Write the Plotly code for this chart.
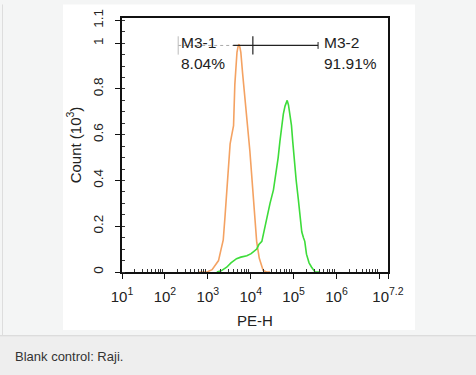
import plotly.graph_objects as go

# ---- data (log10 of PE-H intensity, count in 10^3) ----
blank_log = [2.80, 2.98, 3.10, 3.18, 3.25, 3.31, 3.36, 3.40, 3.44, 3.48, 3.52, 3.56, 3.60,
             3.63, 3.66, 3.68, 3.71, 3.73, 3.75, 3.77, 3.81, 3.86, 3.91, 3.94, 3.98, 4.02,
             4.06, 4.10, 4.14, 4.20, 4.25, 4.29, 4.37, 4.45]
blank_cnt = [0.0, 0.0, 0.01, 0.03, 0.05, 0.10, 0.14, 0.24, 0.36, 0.47, 0.56, 0.60, 0.64,
             0.82, 0.93, 0.96, 0.99, 0.995, 0.98, 0.96, 0.87, 0.77, 0.68, 0.64, 0.53, 0.43,
             0.33, 0.25, 0.13, 0.06, 0.025, 0.007, 0.0, 0.0]

raji_log = [3.21, 3.31, 3.44, 3.54, 3.67, 3.77, 3.91, 4.01, 4.14, 4.19, 4.26, 4.31, 4.37,
            4.45, 4.53, 4.59, 4.64, 4.68, 4.72, 4.76, 4.80, 4.83, 4.85, 4.88, 4.91, 4.95,
            4.98, 5.01, 5.06, 5.11, 5.15, 5.19, 5.23, 5.26, 5.30, 5.36, 5.42, 5.50, 5.61]
raji_cnt = [0.0, 0.005, 0.021, 0.04, 0.058, 0.065, 0.071, 0.08, 0.10, 0.12, 0.134, 0.18,
            0.233, 0.30, 0.359, 0.43, 0.50, 0.57, 0.641, 0.69, 0.725, 0.74, 0.75, 0.73,
            0.697, 0.641, 0.57, 0.50, 0.40, 0.317, 0.24, 0.176, 0.15, 0.134, 0.078, 0.04,
            0.021, 0.0, 0.0]

gate_names = ["M3-1", "M3-2"]
gate_pct = ["8.04%", "91.91%"]
gate_lo_log = [2.31, 4.05]
gate_hi_log = [4.05, 5.57]
gate_level = 0.99

x_tick_exp = [1, 2, 3, 4, 5, 6, 7, 7.2]
x_tick_text = ["10<sup>1</sup>", "10<sup>2</sup>", "10<sup>3</sup>", "10<sup>4</sup>",
               "10<sup>5</sup>", "10<sup>6</sup>", "", "10<sup>7.2</sup>"]
y_tick_vals = [0, 0.2, 0.4, 0.6, 0.8, 1.0, 1.1]
y_tick_text = ["0", "0.2", "0.4", "0.6", "0.8", "1", "1.1"]

caption = "Blank control: Raji."

FONT = "Liberation Sans, Arial, sans-serif"

fig = go.Figure()
fig.add_trace(go.Scatter(x=[10 ** v for v in blank_log], y=blank_cnt, mode="lines",
                         line=dict(color="#F4A262", width=1.6), showlegend=False))
fig.add_trace(go.Scatter(x=[10 ** v for v in raji_log], y=raji_cnt, mode="lines",
                         line=dict(color="#3DDC3A", width=1.6), showlegend=False))

# gate lines
lo1, hi1 = gate_lo_log[0], gate_hi_log[0]
lo2, hi2 = gate_lo_log[1], gate_hi_log[1]
fig.add_trace(go.Scatter(x=[10 ** lo1, 10 ** 3.59], y=[gate_level, gate_level], mode="lines",
                         line=dict(color="#aaaaaa", width=1, dash="dot"), showlegend=False))
fig.add_trace(go.Scatter(x=[10 ** lo1, 10 ** lo1], y=[gate_level - 0.04, gate_level + 0.04],
                         mode="lines", line=dict(color="#bbbbbb", width=1), showlegend=False))
fig.add_trace(go.Scatter(x=[10 ** 3.59, 10 ** hi2], y=[gate_level, gate_level], mode="lines",
                         line=dict(color="#222222", width=1.2), showlegend=False))
fig.add_trace(go.Scatter(x=[10 ** hi1, 10 ** hi1], y=[gate_level - 0.04, gate_level + 0.04],
                         mode="lines", line=dict(color="#222222", width=1.2), showlegend=False))
fig.add_trace(go.Scatter(x=[10 ** hi2, 10 ** hi2], y=[gate_level - 0.015, gate_level + 0.015],
                         mode="lines", line=dict(color="#222222", width=1), showlegend=False))

label_x = [lo1 + 0.02, hi2 + 0.09]
for name, pct, lx in zip(gate_names, gate_pct, label_x):
    fig.add_annotation(x=lx, y=1.005, text=name, showarrow=False, xanchor="left",
                       yanchor="middle", font=dict(family=FONT, size=15.5, color="#222"))
    fig.add_annotation(x=lx, y=0.912, text=pct, showarrow=False, xanchor="left",
                       yanchor="middle", font=dict(family=FONT, size=15.5, color="#222"))

# page background decorations (paper coords)
L, R, T, B = 122, 88, 9, 103
W, H = 476, 375
pw, ph = W - L - R, H - T - B


def px(x):
    return (x - L) / pw


def py(y):
    return (H - B - y) / ph


fig.add_shape(type="rect", xref="paper", yref="paper", x0=px(63), x1=px(415), y0=py(332),
              y1=py(-5), fillcolor="white", line=dict(width=0), layer="below")
fig.add_shape(type="rect", xref="paper", yref="paper", x0=px(-5), x1=px(480), y0=py(380),
              y1=py(338), fillcolor="#eeeeee", line=dict(width=0), layer="below")
fig.add_shape(type="line", xref="paper", yref="paper", x0=px(-5), x1=px(480), y0=py(338),
              y1=py(338), line=dict(color="#d6d6d6", width=1), layer="below")
fig.add_shape(type="line", xref="paper", yref="paper", x0=px(2.5), x1=px(2.5), y0=py(338),
              y1=py(-5), line=dict(color="#dddddd", width=1), layer="below")
fig.add_annotation(xref="paper", yref="paper", x=px(13), y=py(360), text=caption,
                   showarrow=False, xanchor="left", yanchor="middle",
                   font=dict(family=FONT, size=13, color="#333"))

minor_x = [m * 10 ** k for k in range(1, 7) for m in range(2, 10)]

fig.update_xaxes(type="log", range=[1, 7.2], tickvals=[10 ** e for e in x_tick_exp],
                 ticktext=x_tick_text, ticks="outside", ticklen=5, tickwidth=1.2,
                 tickcolor="#111", showline=True, linecolor="#111", linewidth=1.5,
                 mirror=True, showgrid=False, zeroline=False, ticklabelstandoff=5,
                 tickfont=dict(family=FONT, size=15, color="#222"),
                 minor=dict(tickvals=minor_x, ticks="inside", ticklen=3, tickcolor="#333",
                            tickwidth=1),
                 title=dict(text="PE-H", font=dict(family=FONT, size=15, color="#222"),
                            standoff=12))
fig.update_yaxes(range=[0, 1.11], tickvals=y_tick_vals, ticktext=y_tick_text,
                 tickangle=-90, ticks="outside", ticklen=5, tickwidth=1.2, tickcolor="#111",
                 showline=True, linecolor="#111", linewidth=1.5, mirror=True,
                 showgrid=False, zeroline=False, ticklabelstandoff=7,
                 tickfont=dict(family=FONT, size=13.5, color="#222"),
                 minor=dict(dtick=0.05, ticks="inside", ticklen=3, tickcolor="#333",
                            tickwidth=1),
                 title=dict(text="Count (10<sup>3</sup>)",
                            font=dict(family=FONT, size=15, color="#222"), standoff=6))

fig.update_layout(width=W, height=H, margin=dict(l=L, r=R, t=T, b=B),
                  paper_bgcolor="#f4f5f5", plot_bgcolor="white", showlegend=False)

fig.write_html("out.html", config={"displayModeBar": False},
               post_script="document.body.style.margin='0';"
                           "document.body.style.background='#f4f5f5';")
